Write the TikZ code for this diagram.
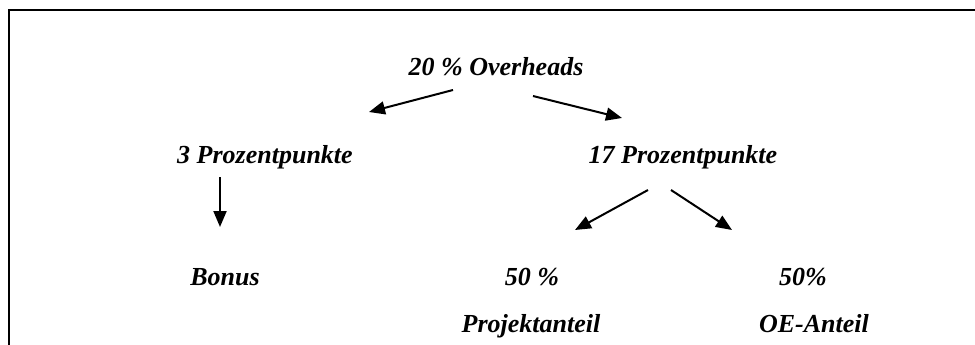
\documentclass[tikz,border=0pt]{standalone}
\usepackage{fontspec}
\setmainfont{Liberation Serif}
\usepackage{tikz}
\usetikzlibrary{arrows.meta}

\begin{document}
\begin{tikzpicture}[>={Triangle[length=16pt, width=13pt]}, x=1pt, y=-1pt,
    lbl/.style={font=\fontsize{26}{30}\selectfont\bfseries\itshape, anchor=base, inner sep=0pt},
    arr/.style={->, line width=2pt}]
  \useasboundingbox (0,0) rectangle (975,345);
  % frame, open at the bottom and on the right
  \draw[line width=2.6pt] (975,10) -- (9,10) -- (9,345);
  % labels
  \node[lbl] (over) at (496,75) {20 \% Overheads};
  \node[lbl] (drei) at (265,163) {3 Prozentpunkte};
  \node[lbl] (siebzehn) at (683,163) {17 Prozentpunkte};
  \node[lbl] (bonus) at (225,285) {Bonus};
  \node[lbl] (projp) at (532,285) {50 \%};
  \node[lbl] (oep) at (803,285) {50\%};
  \node[lbl] (proj) at (531,332) {Projektanteil};
  \node[lbl] (oe) at (814,332) {OE-Anteil};
  % arrow ends
  \coordinate (o1) at (453,90);  \coordinate (d1) at (369,112);
  \coordinate (o2) at (533,96);  \coordinate (s1) at (622,118);
  \coordinate (d2) at (220,177); \coordinate (b1) at (220,227);
  \coordinate (s2) at (648,190); \coordinate (p1) at (575,230);
  \coordinate (s3) at (671,190); \coordinate (e1) at (732,230);
  \draw[arr] (o1) -- (d1);
  \draw[arr] (o2) -- (s1);
  \draw[arr] (d2) -- (b1);
  \draw[arr] (s2) -- (p1);
  \draw[arr] (s3) -- (e1);
\end{tikzpicture}
\end{document}
